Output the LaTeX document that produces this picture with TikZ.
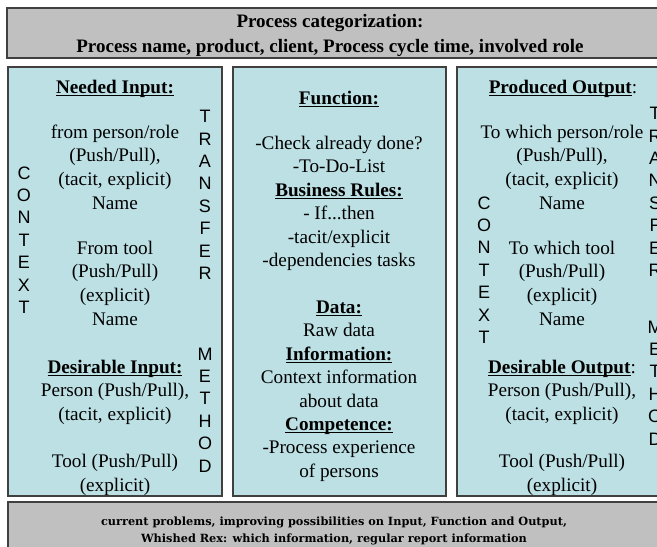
\documentclass[tikz,border=0pt]{standalone}
\usepackage{fontspec}
\setmainfont{Liberation Serif}
\setsansfont{Liberation Sans}
\newfontfamily\barfont{DejaVu Serif}
\definecolor{panel}{RGB}{188,224,228}
\definecolor{bandgray}{RGB}{192,192,192}
\definecolor{edge}{RGB}{64,64,64}
% bold heading with a rule set just under the baseline
\newsavebox\hwbox
\newcommand\headword[1]{\sbox\hwbox{\textbf{#1}}\usebox\hwbox\llap{\rule[-2.6pt]{\wd\hwbox}{1.1pt}}}
\tikzset{
  panelbox/.style={draw=edge, line width=1.3pt, fill=panel},
  band/.style={draw=edge, line width=1.3pt, fill=bandgray},
  ln/.style={font=\fontsize{19.2}{23.5}\selectfont, text height=15pt, text depth=2.5pt, inner sep=0pt},
  vert/.style={font=\sffamily\fontsize{18}{22.4}\selectfont, align=center, inner sep=0pt},
}
\begin{document}
\begin{tikzpicture}[x=1pt, y=-1pt]
\useasboundingbox (0,0) rectangle (657,547);
\clip (0,0) rectangle (657,547);
\fill[white] (0,0) rectangle (657,547);

% header band
\draw[band] (7,8) rectangle (662,58);
\node[align=center, font=\bfseries\fontsize{19}{25}\selectfont, inner sep=0pt] (head) at (330,35)
  {Process categorization:\\Process name, product, client, Process cycle time, involved role};

% three panels
\draw[panelbox] (8,67) rectangle (222,496);
\draw[panelbox] (233,67) rectangle (446,496);
\draw[panelbox] (457,67) rectangle (671,496);

% footer band
\draw[band] (8,502) rectangle (662,560);
\node[align=center, font=\barfont\bfseries\fontsize{11.3}{17}\selectfont, inner sep=0pt] (foot) at (334,530.5)
  {current problems, improving possibilities on Input, Function and Output,\\Whished Rex: which information, regular report information};

% input panel
\node[ln] (i1) at (115,87) {\headword{Needed Input:}};
\node[ln] (i2) at (115,132) {from person/role};
\node[ln] (i3) at (115,155) {(Push/Pull),};
\node[ln] (i4) at (115,179) {(tacit, explicit)};
\node[ln] (i5) at (115,203) {Name};
\node[ln] (i6) at (115,248) {From tool};
\node[ln] (i7) at (115,271) {(Push/Pull)};
\node[ln] (i8) at (115,295) {(explicit)};
\node[ln] (i9) at (115,319) {Name};
\node[ln] (i10) at (115,367) {\headword{Desirable Input:}};
\node[ln] (i11) at (115,390) {Person (Push/Pull),};
\node[ln] (i12) at (115,414) {(tacit, explicit)};
\node[ln] (i13) at (115,461) {Tool (Push/Pull)};
\node[ln] (i14) at (115,485) {(explicit)};
\node[vert] (ictx) at (24,240) {C\\O\\N\\T\\E\\X\\T};
\node[vert] (itr) at (205,195) {T\\R\\A\\N\\S\\F\\E\\R};
\node[vert] (imt) at (205,410) {M\\E\\T\\H\\O\\D};

% function panel
\node[ln] (f1) at (339,98) {\headword{Function:}};
\node[ln] (f2) at (339,143) {-Check already done?};
\node[ln] (f3) at (339,166) {-To-Do-List};
\node[ln] (f4) at (339,190) {\headword{Business Rules:}};
\node[ln] (f5) at (339,213) {- If...then};
\node[ln] (f6) at (339,237) {-tacit/explicit};
\node[ln] (f7) at (339,260) {-dependencies tasks};
\node[ln] (f8) at (339,307) {\headword{Data:}};
\node[ln] (f9) at (339,330) {Raw data};
\node[ln] (f10) at (339,354) {\headword{Information:}};
\node[ln] (f11) at (339,377) {Context information};
\node[ln] (f12) at (339,401) {about data};
\node[ln] (f13) at (339,424) {\headword{Competence:}};
\node[ln] (f14) at (339,447) {-Process experience};
\node[ln] (f15) at (339,471) {of persons};

% output panel
\node[ln] (o1) at (563,87) {\headword{Produced Output}:};
\node[ln] (o2) at (562,132) {To which person/role};
\node[ln] (o3) at (562,155) {(Push/Pull),};
\node[ln] (o4) at (562,179) {(tacit, explicit)};
\node[ln] (o5) at (562,203) {Name};
\node[ln] (o6) at (562,248) {To which tool};
\node[ln] (o7) at (562,271) {(Push/Pull)};
\node[ln] (o8) at (562,295) {(explicit)};
\node[ln] (o9) at (562,319) {Name};
\node[ln] (o10) at (562,367) {\headword{Desirable Output}:};
\node[ln] (o11) at (562,390) {Person (Push/Pull),};
\node[ln] (o12) at (562,414) {(tacit, explicit)};
\node[ln] (o13) at (562,461) {Tool (Push/Pull)};
\node[ln] (o14) at (562,485) {(explicit)};
\node[vert] (octx) at (484,270) {C\\O\\N\\T\\E\\X\\T};
\node[vert] (otr) at (655,192) {T\\R\\A\\N\\S\\F\\E\\R};
\node[vert] (omt) at (655,383) {M\\E\\T\\H\\O\\D};
\end{tikzpicture}
\end{document}
